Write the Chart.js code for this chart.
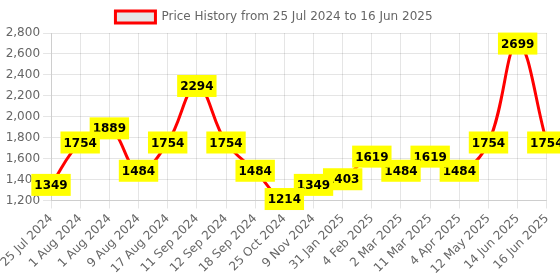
<!DOCTYPE html>
<html>
<head>
<meta charset="utf-8">
<script src="https://cdn.jsdelivr.net/npm/chart.js@4"></script>
<style>
  html, body { margin: 0; padding: 0; background: #fff; }
  #wrap { width: 560px; height: 280px; }
</style>
</head>
<body>
<div id="wrap"><canvas id="priceChart"></canvas></div>
<script>
// Dados do gráfico
const dates = ['25 Jul 2024', '1 Aug 2024', '1 Aug 2024', '9 Aug 2024', '17 Aug 2024', '11 Sep 2024',
  '12 Sep 2024', '18 Sep 2024', '25 Oct 2024', '9 Nov 2024', '31 Jan 2025', '4 Feb 2025',
  '2 Mar 2025', '11 Mar 2025', '4 Apr 2025', '12 May 2025', '14 Jun 2025', '16 Jun 2025'];
const prices = [1349, 1754, 1889, 1484, 1754, 2294, 1754, 1484, 1214, 1349, 1403, 1619,
  1484, 1619, 1484, 1754, 2699, 1754];
const yMin = 1200;
const yMax = 2800;
const yStep = 200;

Chart.defaults.font.family = 'DejaVu Sans';
Chart.defaults.font.size = 12;
Chart.defaults.color = '#666';

// Plugin simples para desenhar os rótulos amarelos (os primeiros ficam por cima)
const valueLabels = {
  id: 'valueLabels',
  afterDatasetsDraw(chart) {
    const ctx = chart.ctx;
    const meta = chart.getDatasetMeta(0);
    ctx.save();
    ctx.font = 'bold 12px DejaVu Sans';
    ctx.textAlign = 'center';
    ctx.textBaseline = 'middle';
    for (let i = meta.data.length - 1; i >= 0; i--) {
      const pt = meta.data[i];
      const text = String(prices[i]);
      const w = ctx.measureText(text).width + 6;
      const h = 22;
      ctx.fillStyle = '#ffff00';
      ctx.fillRect(pt.x - w / 2, pt.y - h / 2, w, h);
      ctx.fillStyle = '#000';
      ctx.fillText(text, pt.x, pt.y + 1);
    }
    ctx.restore();
  }
};

const ctx = document.getElementById('priceChart').getContext('2d');
new Chart(ctx, {
  type: 'line',
  data: {
    labels: dates,
    datasets: [{
      label: 'Price History from 25 Jul 2024 to 16 Jun 2025',
      data: prices,
      borderColor: 'red',
      backgroundColor: 'rgba(0,0,0,0.1)',
      borderWidth: 3,
      tension: 0.4,
      pointRadius: 0,
      fill: false
    }]
  },
  options: {
    responsive: true,
    maintainAspectRatio: false,
    animation: false,
    layout: { padding: { right: 12, top: 1 } },
    plugins: {
      legend: {
        labels: { boxWidth: 40 }
      },
      tooltip: { enabled: false }
    },
    scales: {
      x: {
        ticks: { maxRotation: 45, minRotation: 45, autoSkip: false }
      },
      y: {
        min: yMin,
        max: yMax,
        ticks: { stepSize: yStep }
      }
    }
  },
  plugins: [valueLabels]
});
</script>
</body>
</html>
